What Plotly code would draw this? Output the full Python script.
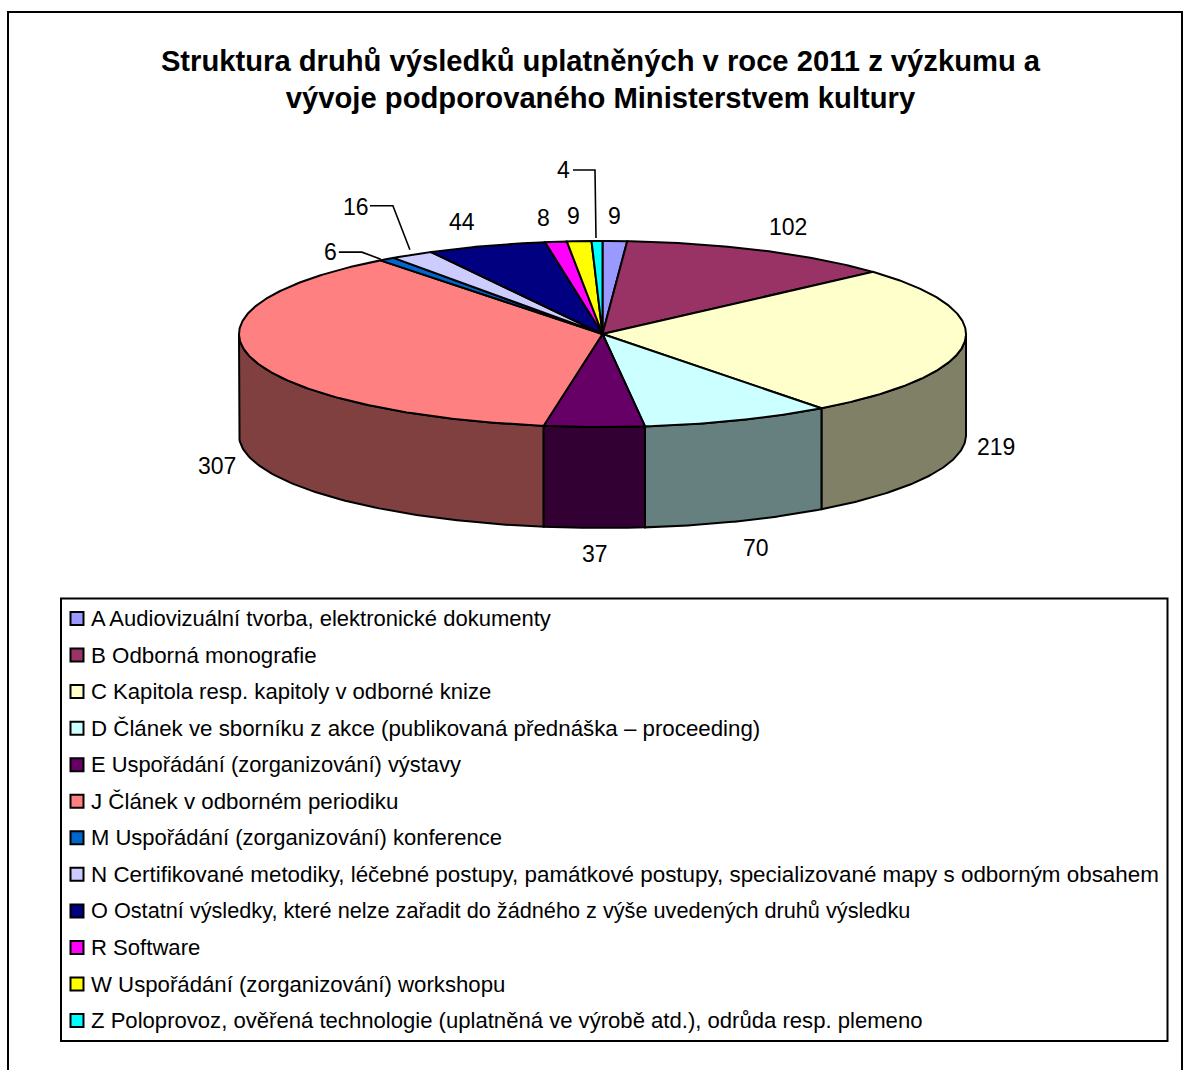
import numpy as np
import plotly.graph_objects as go

title = "Struktura druhů výsledků uplatněných v roce 2011 z výzkumu a<br>vývoje podporovaného Ministerstvem kultury"
categories = [
    "A Audiovizuální tvorba, elektronické dokumenty",
    "B Odborná monografie",
    "C Kapitola resp. kapitoly v odborné knize",
    "D Článek ve sborníku z akce (publikovaná přednáška – proceeding)",
    "E Uspořádání (zorganizování) výstavy",
    "J Článek v odborném periodiku",
    "M Uspořádání (zorganizování) konference",
    "N Certifikované metodiky, léčebné postupy, památkové postupy, specializované mapy s odborným obsahem",
    "O Ostatní výsledky, které nelze zařadit do žádného z výše uvedených druhů výsledku",
    "R Software",
    "W Uspořádání (zorganizování) workshopu",
    "Z Poloprovoz, ověřená technologie (uplatněná ve výrobě atd.), odrůda resp. plemeno",
]
values = [9, 102, 219, 70, 37, 307, 6, 16, 44, 8, 9, 4]
top_colors = ["#9999FF", "#993366", "#FFFFCC", "#CCFFFF", "#660066", "#FF8080",
              "#0066CC", "#CCCCFF", "#000080", "#FF00FF", "#FFFF00", "#00FFFF"]
side_colors = ["#4D4D80", "#4D1A33", "#808066", "#668080", "#330033", "#804040",
               "#003366", "#666680", "#000040", "#800080", "#808000", "#008080"]
legend_sizes = [22.0, 22.3, 22.1, 22.3, 21.9, 22.3, 22.0, 22.4, 21.7, 22.1, 22.2, 22.1]
# label offset from the rim point at the middle of each slice
label_dx = [0, 26, 32, 18, 1, -33, -56, -56, -24, -12, -6, -34]
label_dy = [-25, -23, 3, 27, 26, 8, -7, -48, -24, -24, -25, -71]
# leader lines: slice index -> elbow offsets from the rim point
leaders = {6: [(-48, -7), (-25, -7), (-6, 0)],
           7: [(-42, -49), (-19, -49), (-2, -5)],
           11: [(-24, -71), (-2, -71), (-1, -3)]}

CX, CY, RX, RY, DEPTH = 602.5, 334.0, 363.5, 93.0, 101.0
FONT = "Liberation Sans, Arial, sans-serif"


def rim(deg, drop=0.0):
    a = np.radians(deg)
    return CX + RX * np.sin(a), CY - RY * np.cos(a) + drop


vals = np.array(values, float)
edges = np.concatenate([[0], np.cumsum(vals)]) / vals.sum() * 360
fig = go.Figure()


def poly(xs, ys, fill):
    fig.add_trace(go.Scatter(x=list(xs), y=list(ys), mode="lines", fill="toself", fillcolor=fill,
                             line=dict(color="black", width=2), hoverinfo="skip", showlegend=False))


# side walls of the front half
for i in [5, 2, 3, 4]:
    a0, a1 = max(edges[i], 90), min(edges[i + 1], 270)
    if a1 <= a0:
        continue
    t = np.linspace(a0, a1, 80)
    xt, yt = rim(t)
    xb, yb = rim(t[::-1], DEPTH)
    poly(np.r_[xt, xb, xt[0]], np.r_[yt, yb, yt[0]], side_colors[i])

# top faces
for i in range(len(values)):
    t = np.linspace(edges[i], edges[i + 1], max(3, int(edges[i + 1] - edges[i]) * 2))
    xt, yt = rim(t)
    poly(np.r_[CX, xt, CX], np.r_[CY, yt, CY], top_colors[i])

annotations = []
for i, v in enumerate(values):
    mid = (edges[i] + edges[i + 1]) / 2
    ax, ay = rim(mid, DEPTH if 90 < mid < 270 else 0)
    annotations.append(dict(x=ax + label_dx[i], y=ay + label_dy[i], text=str(v), showarrow=False,
                            xanchor="center", yanchor="middle", font=dict(family=FONT, size=23, color="black")))
    if i in leaders:
        fig.add_trace(go.Scatter(x=[ax + p[0] for p in leaders[i]], y=[ay + p[1] for p in leaders[i]],
                                 mode="lines", line=dict(color="black", width=1.6),
                                 hoverinfo="skip", showlegend=False))

# legend
LEG_Y0, LEG_STEP = 618.5, 36.55
shapes = [
    dict(type="rect", x0=8, y0=12, x1=1182, y1=1100, line=dict(color="black", width=2), layer="below"),
    dict(type="rect", x0=61, y0=598.5, x1=1167.5, y1=1041, line=dict(color="black", width=2), layer="below"),
]
for i, name in enumerate(categories):
    y = LEG_Y0 + i * LEG_STEP
    annotations.append(dict(x=89, y=y, text=name, showarrow=False, xanchor="left", yanchor="middle",
                            font=dict(family=FONT, size=legend_sizes[i], color="black")))
fig.add_trace(go.Scatter(x=[77] * len(categories), y=[LEG_Y0 + i * LEG_STEP for i in range(len(categories))],
                         mode="markers", hoverinfo="skip", showlegend=False,
                         marker=dict(symbol="square", size=13, color=top_colors, line=dict(color="black", width=2))))

fig.update_layout(
    width=1184, height=1070, margin=dict(l=0, r=0, t=0, b=0),
    paper_bgcolor="white", plot_bgcolor="white", showlegend=False,
    title=dict(text=title, x=600.5 / 1184, xanchor="center", y=1 - 70.5 / 1070, yanchor="middle",
               font=dict(family=FONT, size=29.2, color="black", weight="bold")),
    xaxis=dict(range=[0, 1184], visible=False, fixedrange=True),
    yaxis=dict(range=[1070, 0], visible=False, fixedrange=True),
    annotations=annotations, shapes=shapes,
)
fig.write_html("out.html", post_script="document.body.style.margin='0';", config=dict(displayModeBar=False))
